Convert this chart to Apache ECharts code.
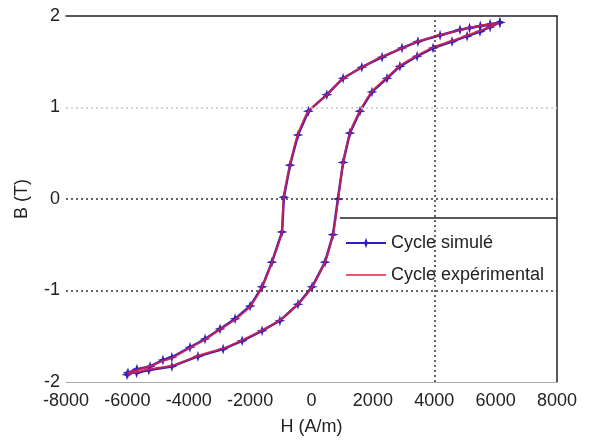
<!DOCTYPE html>
<html>
<head>
<meta charset="utf-8">
<title>cycle</title>
<script type="text/javascript" src="https://cdn.jsdelivr.net/npm/echarts@6/dist/echarts.min.js"></script>
</head>
<body style="margin:0">
<div id="container" style="width:590px;height:441px;"></div>
<script type="text/javascript">
// simulated loop: descending branch then ascending branch
var hSim = [6140, 5820, 5500, 5150, 4840, 4190, 3470, 2950, 2300, 1640, 1030, 500, -100, -440, -700, -900,
	-960, -1290, -1610, -2000, -2490, -2980, -3470, -3960, -4550, -4840, -5260, -5690, -5980, -6010,
	-5700, -5300, -4550, -3700, -2880, -2260, -1610, -1030, -440, 20, 440, 700, 860, 1030, 1250, 1580,
	1970, 2460, 2880, 3440, 3960, 4580, 5070, 5490, 5820, 6140];
var bSim = [1.93, 1.91, 1.89, 1.87, 1.85, 1.79, 1.72, 1.65, 1.55, 1.44, 1.32, 1.14, 0.96, 0.70, 0.37, 0.02,
	-0.36, -0.69, -0.96, -1.17, -1.31, -1.42, -1.53, -1.62, -1.73, -1.76, -1.83, -1.86, -1.90, -1.92,
	-1.90, -1.87, -1.83, -1.72, -1.64, -1.55, -1.44, -1.33, -1.15, -0.96, -0.69, -0.39, 0.00, 0.40, 0.72, 0.96,
	1.17, 1.32, 1.45, 1.56, 1.65, 1.72, 1.78, 1.83, 1.88, 1.93];
// experimental loop
var hExp = [6100, 5800, 5450, 5100, 4800, 4150, 3450, 2900, 2250, 1600, 1000, 480, -120, -460, -710, -910,
	-970, -1300, -1620, -2010, -2500, -3000, -3480, -3980, -4560, -4860, -5280, -5700, -5970, -5990,
	-5680, -5280, -4530, -3680, -2860, -2240, -1590, -1010, -420, 40, 450, 710, 870, 1040, 1260, 1590,
	1980, 2470, 2890, 3450, 3970, 4590, 5080, 5500, 5800, 6100];
var bExp = [1.92, 1.91, 1.89, 1.87, 1.84, 1.79, 1.72, 1.64, 1.55, 1.43, 1.31, 1.13, 0.95, 0.69, 0.36, 0.01,
	-0.37, -0.70, -0.97, -1.18, -1.32, -1.43, -1.54, -1.63, -1.74, -1.77, -1.83, -1.87, -1.90, -1.91,
	-1.89, -1.86, -1.82, -1.71, -1.63, -1.54, -1.43, -1.32, -1.14, -0.95, -0.68, -0.38, 0.01, 0.41, 0.73, 0.97,
	1.18, 1.33, 1.46, 1.57, 1.66, 1.73, 1.79, 1.84, 1.88, 1.92];
var xTicks = [-8000, 8000, 2000];
var yTicks = [-2, 2, 1];
var gridY = [1, 0, -1];
var gridX = [4000];

function pairs(h, b) {
	var out = [];
	for (var i = 0; i < h.length; i++) out.push([h[i], b[i]]);
	return out;
}

var dom = document.getElementById("container");
var myChart = echarts.init(dom);
var font = "'Liberation Sans', Arial, sans-serif";
var star = 'path://M0,-5 L1.2,-1.2 L5,0 L1.2,1.2 L0,5 L-1.2,1.2 L-5,0 L-1.2,-1.2 Z';

var marks = [];
gridY.forEach(function (v) {
	marks.push({ yAxis: v, lineStyle: { color: v == 1 ? '#c8c8c8' : '#333' } });
});
gridX.forEach(function (v) {
	marks.push({ xAxis: v, lineStyle: { color: '#333' } });
});

var plain = function (v) { return String(v); };

var option = {
	animation: false,
	backgroundColor: '#fff',
	grid: { left: 66, right: 33, top: 16, bottom: 58 },
	textStyle: { fontFamily: font },
	legend: {
		orient: 'vertical',
		left: 340, top: 228,
		itemWidth: 40, itemHeight: 14, itemGap: 12,
		textStyle: { fontSize: 18, color: '#222', fontFamily: font, lineHeight: 20 },
		data: ['Cycle simulé', { name: 'Cycle expérimental', itemStyle: { opacity: 0 } }]
	},
	graphic: [{
		type: 'line', shape: { x1: 340, y1: 218, x2: 557, y2: 218 },
		style: { stroke: '#222', lineWidth: 1.5 }
	}],
	xAxis: [{
		type: 'value', min: xTicks[0], max: xTicks[1], interval: xTicks[2], position: 'bottom',
		axisLine: { show: true, onZero: false, lineStyle: { color: '#aaa' } },
		axisTick: { show: false }, splitLine: { show: false },
		axisLabel: { fontSize: 18, color: '#222', margin: 10, fontFamily: font, formatter: plain },
		name: 'H (A/m)', nameLocation: 'middle', nameGap: 36,
		nameTextStyle: { fontSize: 18, color: '#222', fontFamily: font }
	}, {
		type: 'value', min: xTicks[0], max: xTicks[1], interval: xTicks[2], position: 'top',
		axisLine: { show: true, onZero: false, lineStyle: { color: '#222', width: 1.5 } },
		axisTick: { show: false }, splitLine: { show: false }, axisLabel: { show: false }
	}],
	yAxis: [{
		type: 'value', min: yTicks[0], max: yTicks[1], interval: yTicks[2], position: 'left',
		axisLine: { show: false, onZero: false }, axisTick: { show: false }, splitLine: { show: false },
		axisLabel: { fontSize: 18, color: '#222', margin: 6, fontFamily: font, formatter: plain },
		name: 'B (T)', nameLocation: 'middle', nameGap: 35, nameRotate: 90,
		nameTextStyle: { fontSize: 18, color: '#222', fontFamily: font }
	}, {
		type: 'value', min: yTicks[0], max: yTicks[1], interval: yTicks[2], position: 'right',
		axisLine: { show: true, onZero: false, lineStyle: { color: '#222', width: 1.5 } },
		axisTick: { show: false }, splitLine: { show: false }, axisLabel: { show: false }
	}],
	series: [{
		name: 'Cycle simulé', type: 'line',
		data: pairs(hSim, bSim),
		symbol: star, symbolSize: 11,
		itemStyle: { color: '#3020c0' },
		lineStyle: { color: '#3020c0', width: 2.5 },
		markLine: {
			silent: true, symbol: 'none', label: { show: false },
			lineStyle: { type: [2, 3], width: 1.5 },
			data: marks
		},
		z: 3
	}, {
		name: 'Cycle expérimental', type: 'line',
		data: pairs(hExp, bExp),
		symbol: 'none', smooth: 0.2,
		itemStyle: { color: '#e8203c' },
		lineStyle: { color: '#e8203c', width: 2, opacity: 0.75 },
		z: 4
	}]
};
myChart.setOption(option, true);
</script>
</body>
</html>
